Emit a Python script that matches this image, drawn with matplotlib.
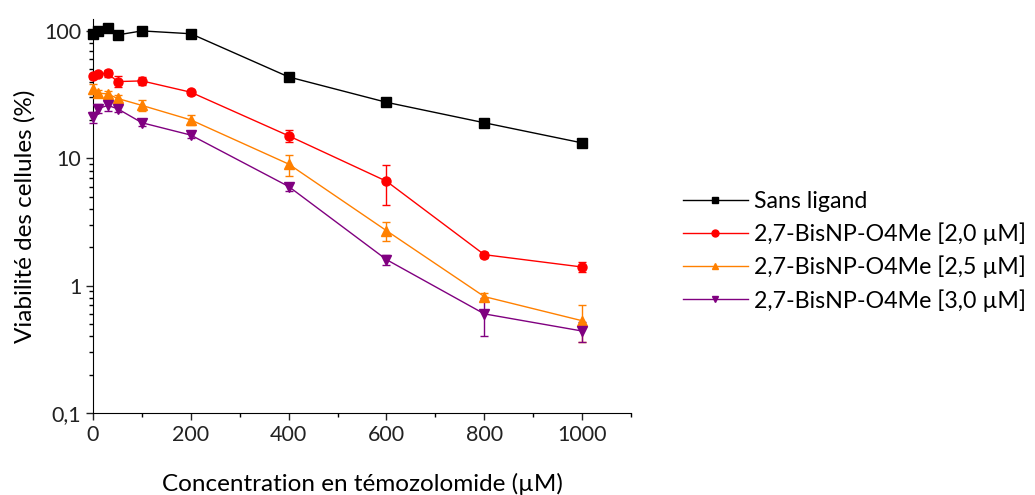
import numpy as np
import matplotlib
matplotlib.use('Agg')
import matplotlib.pyplot as plt
from matplotlib.lines import Line2D
from matplotlib.ticker import FixedLocator, FuncFormatter, LogLocator, NullFormatter

plt.rcParams['font.family'] = ['Lato', 'DejaVu Sans']

# data (log y)
conc = [0, 10, 30, 50, 100, 200, 400, 600, 800, 1000]

sans_ligand = [95, 100, 106, 93, 100, 95, 43.5, 27.5, 19.0, 13.2]
sans_ligand_err = [3, 3, 3, 4, 2, 2, 2, 1, 0.6, 0.5]

bis_20 = [44, 46, 46.5, 40, 40.5, 33, 15, 6.6, 1.75, 1.4]
bis_20_err = [2, 2, 3, 4, 3, 1.5, 1.7, 2.3, 0.1, 0.12]

bis_25 = [35, 32.5, 32, 29.5, 26, 20, 9.0, 2.7, 0.82, 0.53]
bis_25_err = [3, 2, 2, 2, 2.5, 1.8, 1.7, 0.45, 0.05, 0.17]

bis_30 = [21, 24.5, 26, 24.5, 19, 15.2, 6.0, 1.6, 0.6, 0.44]
bis_30_err = [2, 2, 2.5, 1.5, 1, 0.8, 0.45, 0.15, 0.2, 0.08]

series = [
    ('Sans ligand', sans_ligand, sans_ligand_err, 'black', 's'),
    ('2,7-BisNP-O4Me [2,0 µM]', bis_20, bis_20_err, '#ff0000', 'o'),
    ('2,7-BisNP-O4Me [2,5 µM]', bis_25, bis_25_err, '#ff8000', '^'),
    ('2,7-BisNP-O4Me [3,0 µM]', bis_30, bis_30_err, '#800080', 'v'),
]

fig = plt.figure(figsize=(10.35, 4.95), dpi=100)
ax = fig.add_axes([0.0899, 0.1657, 0.5198, 0.7959])

handles = []
for name, vals, err, col, mk in series:
    ax.errorbar(conc, vals, yerr=err, color=col, marker=mk, markersize=6.5,
                linewidth=1, elinewidth=1, capsize=3, capthick=1,
                clip_on=False, zorder=3)
    # legend handle without the error bar
    handles.append(Line2D([], [], color=col, marker=mk, markersize=5, linewidth=1, label=name))

ax.set_yscale('log')
ax.set_ylim(0.1, 124)
ax.set_xlim(0, 1100)

ax.spines['top'].set_visible(False)
ax.spines['right'].set_visible(False)

ax.xaxis.set_major_locator(FixedLocator([0, 200, 400, 600, 800, 1000]))
ax.xaxis.set_minor_locator(FixedLocator([100, 300, 500, 700, 900, 1100]))
ax.yaxis.set_major_locator(FixedLocator([0.1, 1, 10, 100]))
ax.yaxis.set_minor_locator(LogLocator(base=10, subs=np.arange(2, 10)))
ax.yaxis.set_minor_formatter(NullFormatter())
ax.yaxis.set_major_formatter(FuncFormatter(lambda v, p: f'{v:g}'.replace('.', ',')))

ax.tick_params(which='major', direction='out', length=5, width=1, labelsize=15.5, colors='#222222')
ax.tick_params(which='minor', direction='out', length=3, width=1)

ax.set_xlabel('Concentration en témozolomide (µM)', fontsize=17.5, labelpad=20)
ax.set_ylabel('Viabilité des cellules (%)', fontsize=17.5, labelpad=6)

leg = ax.legend(handles=handles, loc='center left', bbox_to_anchor=(1.057, 0.41), frameon=False,
                fontsize=16.7, handlelength=2.8, handletextpad=0.3, labelspacing=0.45)

fig.savefig('out.png', dpi=100)
